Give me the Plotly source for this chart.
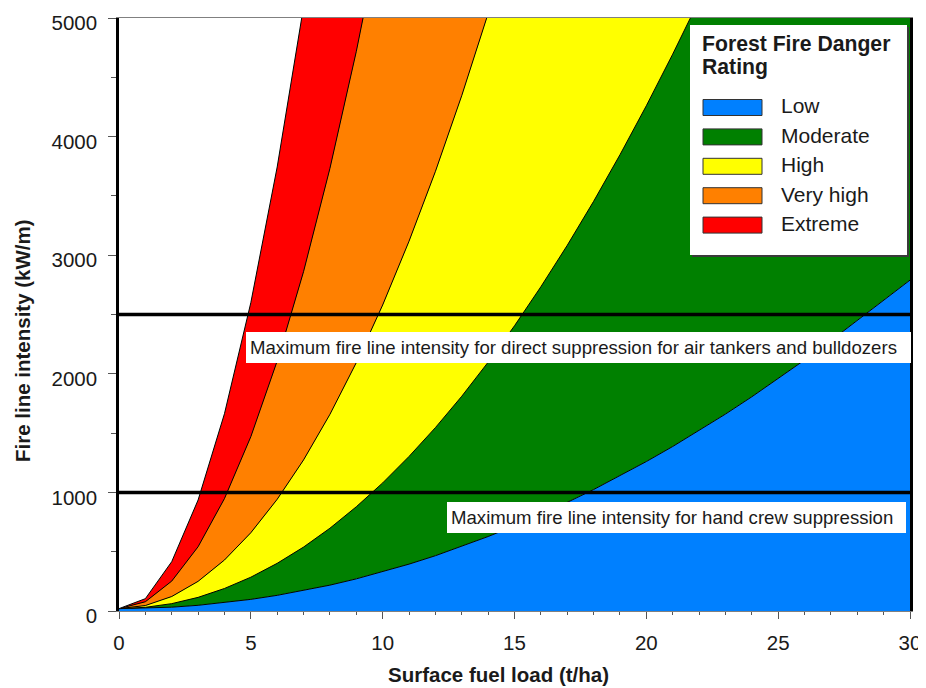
import plotly.graph_objects as go

# ---------------- data ----------------
fuel_load = list(range(0, 31))  # t/ha

# upper boundary of each danger class (fire line intensity, kW/m)
low_upper = [20, 23, 32, 48, 70, 98, 132, 172, 218, 271, 330, 395, 466, 544, 628, 718,
             814, 916, 1024, 1139, 1260, 1387, 1520, 1660, 1806, 1958, 2116, 2280, 2450,
             2627, 2790]
moderate_upper = [20, 31, 62, 115, 190, 285, 402, 539, 698, 879, 1080, 1303, 1546, 1811,
                  2098, 2405, 2734, 3083, 3454, 3847, 4260, 4695, 5150]
high_upper = [20, 46, 122, 250, 430, 660, 942, 1274, 1658, 2094, 2580, 3118, 3706, 4346,
              5038, 5780]
veryhigh_upper = [20, 78, 252, 542, 948, 1470, 2108, 2862, 3732, 4718, 5820]
extreme_upper = [20, 104, 416, 936, 1664, 2600, 3744, 5096, 6656]

levels = ["Low", "Moderate", "High", "Very high", "Extreme"]
level_colors = ["#0080FF", "#008000", "#FFFF00", "#FF8000", "#FF0000"]
legend_title_lines = ["Forest Fire Danger", "Rating"]

limit_values = [2500, 1000]
limit_labels = ["Maximum fire line intensity for direct suppression for air tankers and bulldozers",
                "Maximum fire line intensity for hand crew suppression"]
limit_label_x = [4.8, 12.43]
limit_label_y = [2222, 787]

x_ticks = [0, 5, 10, 15, 20, 25, 30]
y_ticks = [0, 1000, 2000, 3000, 4000, 5000]
X_MAX = 30
Y_MAX = 5000

# ---------------- figure geometry ----------------
OFF = 8                       # page body margin
W, H = 918, 680
L, T = 111, 10
R = W - (910 - OFF)
B = H - (611 - OFF)
PW, PH = W - L - R, H - T - B


def px(p):
    """screen x pixel -> paper"""
    return (p - OFF - L) / PW


def py(p):
    """screen y pixel -> paper"""
    return (H - B - (p - OFF)) / PH


FONT = "Arial, Liberation Sans, sans-serif"
TXT = "#1a1a1a"
OUT = dict(color="black", width=1)

fig = go.Figure()


def xs(vals):
    return fuel_load[:len(vals)]


# Low: under the first boundary
fig.add_trace(go.Scatter(x=xs(low_upper), y=low_upper, mode="lines", line=OUT,
                         fill="tozeroy", fillcolor=level_colors[0], name=levels[0],
                         showlegend=False, hoverinfo="skip"))
# Moderate: everything above the low boundary (overpainted by higher classes)
fig.add_trace(go.Scatter(x=[0, X_MAX], y=[Y_MAX, Y_MAX], mode="lines", line=dict(width=0),
                         fill="tonexty", fillcolor=level_colors[1], name=levels[1],
                         showlegend=False, hoverinfo="skip"))
# moderate/high boundary
fig.add_trace(go.Scatter(x=xs(moderate_upper), y=moderate_upper, mode="lines", line=OUT,
                         showlegend=False, hoverinfo="skip"))
# High
fig.add_trace(go.Scatter(x=xs(high_upper), y=high_upper, mode="lines", line=OUT,
                         fill="tonexty", fillcolor=level_colors[2], name=levels[2],
                         showlegend=False, hoverinfo="skip"))
# Very high
fig.add_trace(go.Scatter(x=xs(veryhigh_upper), y=veryhigh_upper, mode="lines", line=OUT,
                         fill="tonexty", fillcolor=level_colors[3], name=levels[3],
                         showlegend=False, hoverinfo="skip"))
# Extreme
fig.add_trace(go.Scatter(x=xs(extreme_upper), y=extreme_upper, mode="lines", line=OUT,
                         fill="tonexty", fillcolor=level_colors[4], name=levels[4],
                         showlegend=False, hoverinfo="skip"))
# outside the rated zone: white
fig.add_trace(go.Scatter(x=[0, X_MAX], y=[Y_MAX, Y_MAX], mode="lines", line=dict(width=0),
                         fill="tonexty", fillcolor="white", showlegend=False,
                         hoverinfo="skip"))

shapes = []
annotations = []

# suppression limit lines and labels
label_right = [911, 906]
for v, lab, lx, ly, rr in zip(limit_values, limit_labels, limit_label_x, limit_label_y,
                              label_right):
    shapes.append(dict(type="line", xref="x", yref="y", x0=0, x1=X_MAX, y0=v, y1=v,
                       line=dict(color="black", width=3.5), layer="above"))
    left_px = L + OFF + lx * PW / X_MAX
    annotations.append(dict(xref="x", yref="y", x=lx, y=ly, xanchor="left",
                            yanchor="middle", text=lab, showarrow=False, align="left",
                            width=rr - left_px - 8, height=23, bgcolor="white",
                            borderpad=4, borderwidth=0,
                            font=dict(family=FONT, size=18.6, color=TXT)))

# custom legend box
shapes.append(dict(type="rect", xref="paper", yref="paper", x0=px(692), x1=px(909),
                   y0=py(257), y1=py(27), fillcolor="#3a3a3a", line=dict(width=0),
                   layer="above"))
shapes.append(dict(type="rect", xref="paper", yref="paper", x0=px(690), x1=px(907),
                   y0=py(255), y1=py(25), fillcolor="white", line=dict(width=0),
                   layer="above"))
for j, line_txt in enumerate(legend_title_lines):
    annotations.append(dict(xref="paper", yref="paper", x=px(700), y=py(43.5 + 24 * j),
                            xanchor="left", yanchor="middle", showarrow=False,
                            align="left", text="<b>" + line_txt + "</b>",
                            font=dict(family=FONT, size=21.2, color=TXT)))
for i, (lev, col) in enumerate(zip(levels, level_colors)):
    cy = 107.5 + i * 29.4
    shapes.append(dict(type="rect", xref="paper", yref="paper", x0=px(703), x1=px(762),
                       y0=py(cy + 8), y1=py(cy - 8), fillcolor=col,
                       line=dict(color="#333333", width=1), layer="above"))
    annotations.append(dict(xref="paper", yref="paper", x=px(779), y=py(cy - 1.5),
                            xanchor="left", yanchor="middle", text=lev, showarrow=False,
                            font=dict(family=FONT, size=21, color=TXT)))

# axis titles
annotations.append(dict(xref="paper", yref="paper", x=px(498), y=py(675), xanchor="center",
                        yanchor="middle", showarrow=False,
                        text="<b>Surface fuel load (t/ha)</b>",
                        font=dict(family=FONT, size=20.5, color=TXT)))
annotations.append(dict(xref="paper", yref="paper", x=px(22), y=py(341), xanchor="center",
                        yanchor="middle", showarrow=False, textangle=-90,
                        text="<b>Fire line intensity (kW/m)</b>",
                        font=dict(family=FONT, size=20.5, color=TXT)))

fig.update_layout(
    width=W, height=H,
    margin=dict(l=L, r=R, t=T, b=B, pad=0, autoexpand=False),
    paper_bgcolor="white", plot_bgcolor="white",
    showlegend=False,
    shapes=shapes, annotations=annotations,
    xaxis=dict(range=[0, X_MAX], tickvals=x_ticks, ticks="outside", ticklen=7,
               tickcolor="#555555", tickwidth=1,
               minor=dict(dtick=1, tick0=0, ticks="outside", ticklen=3,
                          tickcolor="#555555", showgrid=False),
               showline=True, linecolor="#808080", linewidth=1, mirror=True,
               showgrid=False, zeroline=False, ticklabelstandoff=6,
               ticklabeloverflow="allow",
               tickfont=dict(family=FONT, size=20.5, color=TXT)),
    yaxis=dict(range=[0, Y_MAX], tickvals=y_ticks, ticks="outside", ticklen=8,
               tickcolor="#555555", tickwidth=1,
               minor=dict(dtick=500, tick0=0, ticks="outside", ticklen=5,
                          tickcolor="#555555", showgrid=False),
               showline=True, linecolor="black", linewidth=2.5, mirror=True,
               showgrid=False, zeroline=False, ticklabelstandoff=7,
               ticklabelshift=5, ticklabeloverflow="allow",
               tickfont=dict(family=FONT, size=20.5, color=TXT)),
)

fig.write_html("out.html")
